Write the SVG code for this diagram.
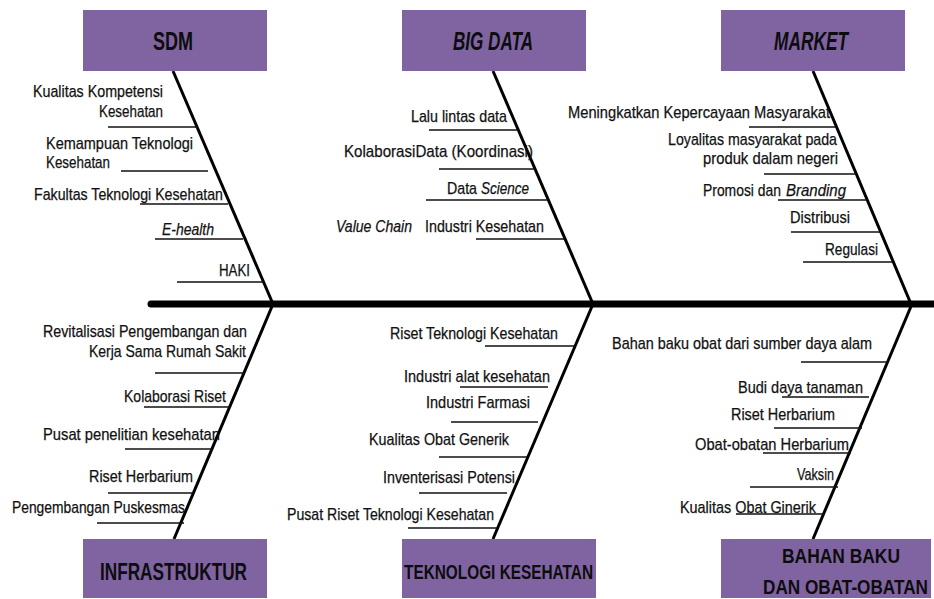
<svg xmlns="http://www.w3.org/2000/svg" width="934" height="599" viewBox="0 0 934 599">
  <style>
    .box { fill: #8064A2; }
    .head { font-family: "Liberation Sans", Arial, sans-serif; font-weight: bold; fill: #0d0d0d; }
    .item { font-family: "Liberation Sans", Arial, sans-serif; font-size: 17px; fill: #111; stroke: #111; stroke-width: 0.25; }
    .it { font-style: italic; }
    .spine { stroke: #000; stroke-width: 7; stroke-linecap: round; fill: none; }
    .bone { stroke: #000; stroke-width: 3; fill: none; }
    .rib { stroke: #111; stroke-width: 1.6; fill: none; }
  </style>
  <rect width="934" height="599" fill="#fff"/>

  <!-- connectors: spine, category bones and cause ribs -->
  <g id="connectors">
    <line class="spine" x1="151" y1="304" x2="940" y2="304"/>
    <line class="bone" x1="173" y1="71" x2="273" y2="304"/>
    <line class="bone" x1="493" y1="71" x2="593" y2="304"/>
    <line class="bone" x1="813" y1="71" x2="911" y2="304"/>
    <line class="bone" x1="273" y1="304" x2="174" y2="539"/>
    <line class="bone" x1="593" y1="304" x2="493" y2="539"/>
    <line class="bone" x1="912" y1="304" x2="813" y2="539"/>

    <!-- SDM ribs -->
    <line class="rib" x1="108" y1="127" x2="197" y2="127"/>
    <line class="rib" x1="121" y1="171" x2="208" y2="171"/>
    <line class="rib" x1="140" y1="204" x2="228" y2="204"/>
    <line class="rib" x1="155" y1="239" x2="243" y2="239"/>
    <line class="rib" x1="177" y1="282" x2="263" y2="282"/>
    <!-- BIG DATA ribs -->
    <line class="rib" x1="429" y1="130" x2="518" y2="130"/>
    <line class="rib" x1="439" y1="169" x2="535" y2="169"/>
    <line class="rib" x1="426" y1="200" x2="548" y2="200"/>
    <line class="rib" x1="476" y1="239" x2="565" y2="239"/>
    <!-- MARKET ribs -->
    <line class="rib" x1="749" y1="127" x2="836" y2="127"/>
    <line class="rib" x1="764" y1="174" x2="856" y2="174"/>
    <line class="rib" x1="778" y1="200" x2="867" y2="200"/>
    <line class="rib" x1="791" y1="232" x2="881" y2="232"/>
    <line class="rib" x1="803" y1="262" x2="893" y2="262"/>
    <!-- INFRASTRUKTUR ribs -->
    <line class="rib" x1="155" y1="373" x2="244" y2="373"/>
    <line class="rib" x1="144" y1="407" x2="230" y2="407"/>
    <line class="rib" x1="125" y1="449" x2="212" y2="449"/>
    <line class="rib" x1="108" y1="493" x2="193" y2="493"/>
    <line class="rib" x1="97" y1="523" x2="184" y2="523"/>
    <!-- TEKNOLOGI KESEHATAN ribs -->
    <line class="rib" x1="485" y1="346" x2="575" y2="346"/>
    <line class="rib" x1="460" y1="387" x2="548" y2="387"/>
    <line class="rib" x1="451" y1="422" x2="538" y2="422"/>
    <line class="rib" x1="439" y1="457" x2="527" y2="457"/>
    <line class="rib" x1="419" y1="493" x2="507" y2="493"/>
    <line class="rib" x1="408" y1="528" x2="497" y2="528"/>
    <!-- BAHAN BAKU ribs -->
    <line class="rib" x1="801" y1="362" x2="887" y2="362"/>
    <line class="rib" x1="782" y1="397" x2="869" y2="397"/>
    <line class="rib" x1="774" y1="428" x2="862" y2="428"/>
    <line class="rib" x1="763" y1="453" x2="851" y2="453"/>
    <line class="rib" x1="750" y1="487" x2="838" y2="487"/>
    <line class="rib" x1="736" y1="514" x2="825" y2="514"/>
  </g>

  <!-- category boxes -->
  <g id="sdm">
    <rect class="box" x="83" y="10" width="184" height="61"/>
    <text class="head" x="153" y="50" font-size="25" textLength="40" lengthAdjust="spacingAndGlyphs">SDM</text>
  </g>
  <g id="big-data">
    <rect class="box" x="402" y="10" width="184" height="61"/>
    <text class="head it" x="453" y="50" font-size="25" textLength="80" lengthAdjust="spacingAndGlyphs">BIG DATA</text>
  </g>
  <g id="market">
    <rect class="box" x="721" y="10" width="184" height="61"/>
    <text class="head it" x="774" y="50" font-size="25" textLength="74" lengthAdjust="spacingAndGlyphs">MARKET</text>
  </g>
  <g id="infrastruktur">
    <rect class="box" x="83" y="539" width="184" height="59"/>
    <text class="head" x="100" y="580" font-size="24" textLength="147" lengthAdjust="spacingAndGlyphs">INFRASTRUKTUR</text>
  </g>
  <g id="teknologi-kesehatan">
    <rect class="box" x="402" y="539" width="194" height="59"/>
    <text class="head" x="404" y="579" font-size="20" textLength="189" lengthAdjust="spacingAndGlyphs">TEKNOLOGI KESEHATAN</text>
  </g>
  <g id="bahan-baku">
    <rect class="box" x="721" y="539" width="210" height="59"/>
    <text class="head" x="782" y="563" font-size="21" textLength="118" lengthAdjust="spacingAndGlyphs">BAHAN BAKU</text>
    <text class="head" x="763" y="594" font-size="21" textLength="165" lengthAdjust="spacingAndGlyphs">DAN OBAT-OBATAN</text>
  </g>

  <!-- SDM causes -->
  <g id="sdm-causes">
    <text class="item" x="33" y="97" textLength="130" lengthAdjust="spacingAndGlyphs">Kualitas Kompetensi</text>
    <text class="item" x="99" y="117" textLength="64" lengthAdjust="spacingAndGlyphs">Kesehatan</text>
    <text class="item" x="46" y="149" textLength="147" lengthAdjust="spacingAndGlyphs">Kemampuan Teknologi</text>
    <text class="item" x="46" y="168" textLength="64" lengthAdjust="spacingAndGlyphs">Kesehatan</text>
    <text class="item" x="34" y="200" textLength="189" lengthAdjust="spacingAndGlyphs">Fakultas Teknologi Kesehatan</text>
    <text class="item it" x="162" y="235" textLength="52" lengthAdjust="spacingAndGlyphs">E-health</text>
    <text class="item" x="219" y="276" textLength="31" lengthAdjust="spacingAndGlyphs">HAKI</text>
  </g>

  <!-- BIG DATA causes -->
  <g id="big-data-causes">
    <text class="item" x="411" y="122" textLength="96" lengthAdjust="spacingAndGlyphs">Lalu lintas data</text>
    <text class="item" x="344" y="157" textLength="189" lengthAdjust="spacingAndGlyphs">KolaborasiData (Koordinasi)</text>
    <text class="item" x="447" y="194" textLength="30" lengthAdjust="spacingAndGlyphs">Data</text>
    <text class="item it" x="481" y="194" textLength="48" lengthAdjust="spacingAndGlyphs">Science</text>
    <text class="item it" x="336" y="232" textLength="76" lengthAdjust="spacingAndGlyphs">Value  Chain</text>
    <text class="item" x="425" y="232" textLength="119" lengthAdjust="spacingAndGlyphs">Industri Kesehatan</text>
  </g>

  <!-- MARKET causes -->
  <g id="market-causes">
    <text class="item" x="568" y="118" textLength="262" lengthAdjust="spacingAndGlyphs">Meningkatkan Kepercayaan Masyarakat</text>
    <text class="item" x="668" y="145" textLength="169" lengthAdjust="spacingAndGlyphs">Loyalitas masyarakat pada</text>
    <text class="item" x="703" y="164" textLength="135" lengthAdjust="spacingAndGlyphs">produk dalam negeri</text>
    <text class="item" x="703" y="196" textLength="78" lengthAdjust="spacingAndGlyphs">Promosi dan</text>
    <text class="item it" x="786" y="196" textLength="60" lengthAdjust="spacingAndGlyphs">Branding</text>
    <text class="item" x="790" y="223" textLength="60" lengthAdjust="spacingAndGlyphs">Distribusi</text>
    <text class="item" x="825" y="255" textLength="53" lengthAdjust="spacingAndGlyphs">Regulasi</text>
  </g>

  <!-- INFRASTRUKTUR causes -->
  <g id="infrastruktur-causes">
    <text class="item" x="43" y="337" textLength="204" lengthAdjust="spacingAndGlyphs">Revitalisasi Pengembangan dan</text>
    <text class="item" x="89" y="357" textLength="157" lengthAdjust="spacingAndGlyphs">Kerja Sama Rumah Sakit</text>
    <text class="item" x="124" y="402" textLength="102" lengthAdjust="spacingAndGlyphs">Kolaborasi Riset</text>
    <text class="item" x="43" y="440" textLength="177" lengthAdjust="spacingAndGlyphs">Pusat penelitian kesehatan</text>
    <text class="item" x="89" y="482" textLength="104" lengthAdjust="spacingAndGlyphs">Riset Herbarium</text>
    <text class="item" x="12" y="513" textLength="173" lengthAdjust="spacingAndGlyphs">Pengembangan Puskesmas</text>
  </g>

  <!-- TEKNOLOGI KESEHATAN causes -->
  <g id="teknologi-causes">
    <text class="item" x="390" y="339" textLength="168" lengthAdjust="spacingAndGlyphs">Riset Teknologi Kesehatan</text>
    <text class="item" x="404" y="382" textLength="146" lengthAdjust="spacingAndGlyphs">Industri alat kesehatan</text>
    <text class="item" x="426" y="408" textLength="104" lengthAdjust="spacingAndGlyphs">Industri Farmasi</text>
    <text class="item" x="369" y="445" textLength="140" lengthAdjust="spacingAndGlyphs">Kualitas Obat Generik</text>
    <text class="item" x="383" y="483" textLength="132" lengthAdjust="spacingAndGlyphs">Inventerisasi Potensi</text>
    <text class="item" x="287" y="520" textLength="207" lengthAdjust="spacingAndGlyphs">Pusat Riset Teknologi Kesehatan</text>
  </g>

  <!-- BAHAN BAKU causes -->
  <g id="bahan-baku-causes">
    <text class="item" x="612" y="349" textLength="260" lengthAdjust="spacingAndGlyphs">Bahan baku obat dari sumber daya alam</text>
    <text class="item" x="738" y="393" textLength="125" lengthAdjust="spacingAndGlyphs">Budi daya tanaman</text>
    <text class="item" x="731" y="420" textLength="104" lengthAdjust="spacingAndGlyphs">Riset Herbarium</text>
    <text class="item" x="695" y="450" textLength="154" lengthAdjust="spacingAndGlyphs">Obat-obatan Herbarium</text>
    <text class="item" x="797" y="480" textLength="37" lengthAdjust="spacingAndGlyphs">Vaksin</text>
    <text class="item" x="680" y="513" textLength="136" lengthAdjust="spacingAndGlyphs">Kualitas Obat Ginerik</text>
  </g>
</svg>
